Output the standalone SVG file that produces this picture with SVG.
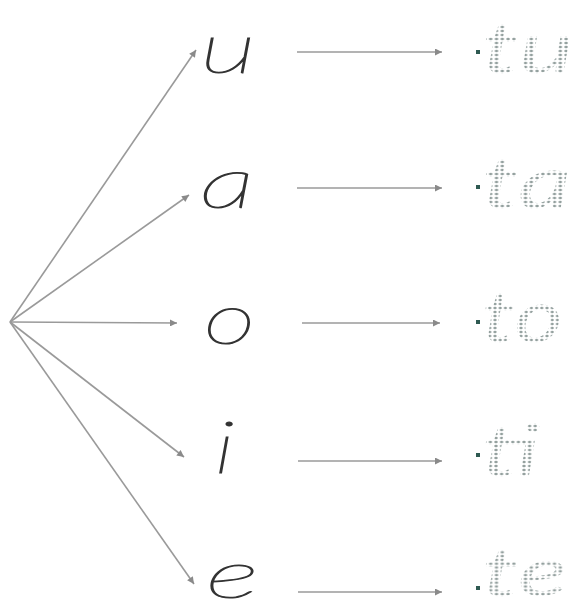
<svg xmlns="http://www.w3.org/2000/svg" width="587" height="612" viewBox="0 0 587 612">
<style>
.conn line{stroke:#9a9a9a;stroke-width:1.6;fill:none}
.letter{font-family:Lato,"Open Sans",Roboto,sans-serif;font-style:italic;font-weight:200;font-size:72px;fill:#333;stroke:#333;stroke-width:1.1}
.dotted{font-family:Lato,"Open Sans",Roboto,sans-serif;font-style:italic;font-weight:400;font-size:72px;fill:url(#dots)}
.start{fill:#2f5a52}
</style>
<defs>
<marker id="ah" viewBox="0 0 10 10" refX="10" refY="5" markerWidth="9" markerHeight="7" markerUnits="userSpaceOnUse" orient="auto">
<path d="M0,0 L10,5 L0,10 z" fill="#8a8a8a"/>
</marker>
<pattern id="dots" width="4" height="4" patternUnits="userSpaceOnUse">
<circle cx="2" cy="2" r="1.2" fill="#93a09e"/>
</pattern>
</defs>
<rect width="587" height="612" fill="#fff"/>
<g id="connectors" class="conn">
<line x1="10" y1="322" x2="196" y2="50" marker-end="url(#ah)"/>
<line x1="10" y1="322" x2="189" y2="195" marker-end="url(#ah)"/>
<line x1="10" y1="322" x2="177" y2="323" marker-end="url(#ah)"/>
<line x1="10" y1="322" x2="184" y2="457" marker-end="url(#ah)"/>
<line x1="10" y1="322" x2="194" y2="584" marker-end="url(#ah)"/>
<line x1="297" y1="52" x2="442" y2="52" marker-end="url(#ah)"/>
<line x1="297" y1="188" x2="442" y2="188" marker-end="url(#ah)"/>
<line x1="302" y1="323" x2="440" y2="323" marker-end="url(#ah)"/>
<line x1="298" y1="461" x2="442" y2="461" marker-end="url(#ah)"/>
<line x1="298" y1="592" x2="442" y2="592" marker-end="url(#ah)"/>
</g>
<g id="u"><text class="letter" transform="translate(200,73) scale(1.55,1)">u</text></g>
<g id="a"><text class="letter" transform="translate(200,208) scale(1.55,1)">a</text></g>
<g id="o"><text class="letter" transform="translate(204,344) scale(1.4,1)">o</text></g>
<g id="i"><text class="letter" transform="translate(214,473) scale(1.5,1)">i</text></g>
<g id="e"><text class="letter" transform="translate(206,598) scale(1.6,0.92)">e</text></g>
<g id="tu"><text class="dotted" transform="translate(482,73) scale(1.45,1)">tu</text><rect class="start" x="476" y="50" width="4" height="4"/></g>
<g id="ta"><text class="dotted" transform="translate(482,208) scale(1.45,1)">ta</text><rect class="start" x="476" y="185" width="4" height="4"/></g>
<g id="to"><text class="dotted" transform="translate(482,342) scale(1.3,1)">to</text><rect class="start" x="476" y="320" width="4" height="4"/></g>
<g id="ti"><text class="dotted" transform="translate(482,476) scale(1.4,1)">ti</text><rect class="start" x="476" y="453" width="4" height="4"/></g>
<g id="te"><text class="dotted" transform="translate(482,596) scale(1.45,0.95)">te</text><rect class="start" x="476" y="586" width="4" height="4"/></g>
</svg>
